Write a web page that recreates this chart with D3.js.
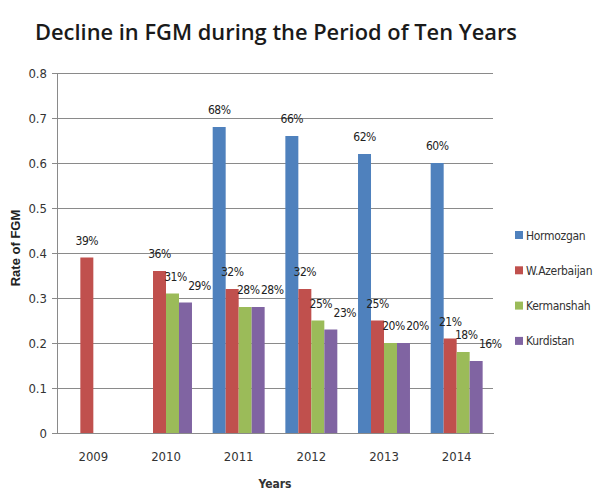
<!DOCTYPE html>
<html>
<head>
<meta charset="utf-8">
<script src="https://cdn.jsdelivr.net/npm/d3@7"></script>
<style>
  html, body { margin: 0; padding: 0; background: #fff; }
  svg { display: block; }
</style>
</head>
<body>
<svg id="chart" width="604" height="491"></svg>
<script>
// ---- data ----
const categories = ["2009", "2010", "2011", "2012", "2013", "2014"];
const seriesNames = ["Hormozgan", "W.Azerbaijan", "Kermanshah", "Kurdistan"];
const hormozgan   = [null, null, 0.68, 0.66, 0.62, 0.60];
const wAzerbaijan = [0.39, 0.36, 0.32, 0.32, 0.25, 0.21];
const kermanshah  = [null, 0.31, 0.28, 0.25, 0.20, 0.18];
const kurdistan   = [null, 0.29, 0.28, 0.23, 0.20, 0.16];
const yTicks = [0, 0.1, 0.2, 0.3, 0.4, 0.5, 0.6, 0.7, 0.8];
const titleText = "Decline in FGM during the Period of Ten Years";
const yTitle = "Rate of FGM";
const xTitle = "Years";

// ---- styles ----
const colors = ["#4F81BD", "#C0504D", "#9BBB59", "#8064A2"];
const labelDx = [0, 0, 3, 14];
const narrow = "'DejaVu Sans Condensed', 'DejaVu Sans', sans-serif";

const seriesValues = [hormozgan, wAzerbaijan, kermanshah, kurdistan];

const svg = d3.select("#chart");
const plotLeft = 57, plotRight = 493, plotTop = 73, plotBottom = 433;

const x0 = d3.scaleBand().domain(categories).range([plotLeft, plotRight])
  .paddingInner(0.285).paddingOuter(0.1425);
const x1 = d3.scaleBand().domain(seriesNames).range([0, x0.bandwidth()]);
const y = d3.scaleLinear().domain([0, 0.8]).range([plotBottom, plotTop]);

// title
svg.append("text")
  .attr("x", 35).attr("y", 40)
  .attr("font-family", "'Open Sans', sans-serif")
  .attr("font-weight", 600)
  .attr("font-size", 22)
  .attr("fill", "#1a1a1a")
  .attr("textLength", 482)
  .attr("lengthAdjust", "spacingAndGlyphs")
  .text(titleText);

// gridlines
svg.append("g").selectAll("line")
  .data(yTicks.filter(d => d > 0))
  .join("line")
  .attr("x1", plotLeft).attr("x2", plotRight)
  .attr("y1", d => y(d)).attr("y2", d => y(d))
  .attr("stroke", "#8a8a8a").attr("stroke-width", 1)
  .attr("shape-rendering", "crispEdges");

// y axis
const yAxis = svg.append("g")
  .attr("transform", `translate(${plotLeft},0)`)
  .call(d3.axisLeft(y).tickValues(yTicks).tickSize(5).tickPadding(5)
    .tickFormat(d => d === 0 ? "0" : d3.format(".1f")(d)));
yAxis.selectAll("path, line").attr("stroke", "#8a8a8a").attr("shape-rendering", "crispEdges");
yAxis.selectAll("text")
  .attr("font-family", narrow).attr("font-size", 13).attr("fill", "#333");

// bars
const groups = svg.append("g").selectAll("g")
  .data(seriesNames)
  .join("g")
  .attr("fill", (d, i) => colors[i]);

groups.each(function(name, si) {
  const vals = seriesValues[si].map((v, ci) => ({ cat: categories[ci], v }))
    .filter(d => d.v !== null);
  d3.select(this).selectAll("rect")
    .data(vals)
    .join("rect")
    .attr("x", d => x0(d.cat) + x1(name))
    .attr("width", x1.bandwidth())
    .attr("y", d => y(d.v))
    .attr("height", d => y(0) - y(d.v));
});

// x axis
const xAxis = svg.append("g")
  .attr("transform", `translate(0,${plotBottom})`)
  .call(d3.axisBottom(x0).tickSize(0).tickPadding(19));
xAxis.select("path").attr("stroke", "#8a8a8a").attr("shape-rendering", "crispEdges");
xAxis.selectAll("text")
  .attr("font-family", narrow).attr("font-size", 13).attr("fill", "#333");

// data labels
const labels = svg.append("g");
seriesNames.forEach((name, si) => {
  const vals = seriesValues[si].map((v, ci) => ({ cat: categories[ci], v }))
    .filter(d => d.v !== null);
  labels.selectAll(null)
    .data(vals)
    .join("text")
    .attr("x", d => x0(d.cat) + x1(name) + x1.bandwidth() / 2 + labelDx[si])
    .attr("y", d => y(d.v) - 13)
    .attr("text-anchor", "middle")
    .attr("font-family", narrow)
    .attr("font-size", 12)
    .attr("letter-spacing", -0.5)
    .attr("fill", "#222")
    .text(d => d3.format(".0%")(d.v));
});

// axis titles
svg.append("text")
  .attr("transform", "translate(20,248) rotate(-90)")
  .attr("text-anchor", "middle")
  .attr("font-family", "'Liberation Sans', Arial, sans-serif")
  .attr("font-weight", "bold")
  .attr("font-size", 13)
  .attr("fill", "#222")
  .text(yTitle);

svg.append("text")
  .attr("x", 275).attr("y", 488)
  .attr("text-anchor", "middle")
  .attr("font-family", narrow)
  .attr("font-weight", "bold")
  .attr("font-size", 12)
  .attr("fill", "#333")
  .text(xTitle);

// legend
const legend = svg.append("g").selectAll("g")
  .data(seriesNames)
  .join("g")
  .attr("transform", (d, i) => `translate(515,${235 + i * 35.3})`);
legend.append("rect")
  .attr("x", 0).attr("y", -4).attr("width", 8).attr("height", 8)
  .attr("fill", (d, i) => colors[i]);
legend.append("text")
  .attr("x", 11).attr("y", 4.5)
  .attr("font-family", narrow)
  .attr("font-size", 12)
  .attr("letter-spacing", -0.3)
  .attr("fill", "#333")
  .text(d => d);
</script>
</body>
</html>
